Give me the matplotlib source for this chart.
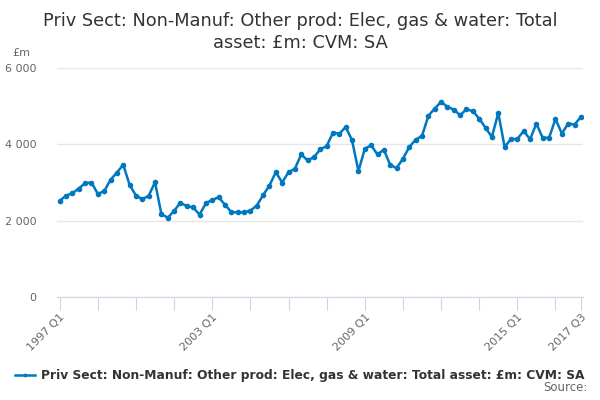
import numpy as np
import matplotlib
matplotlib.use("Agg")
import matplotlib.pyplot as plt

# quarterly values, 1997 Q1 .. 2017 Q3 (£m)
values = [2518, 2658, 2718, 2842, 2981, 3000, 2702, 2771, 3070, 3262,
          3465, 2939, 2658, 2562, 2650, 3008, 2175, 2079, 2254, 2473,
          2377, 2350, 2158, 2455, 2544, 2613, 2420, 2225, 2220, 2218,
          2263, 2395, 2666, 2921, 3271, 3000, 3271, 3359, 3736, 3578,
          3666, 3867, 3954, 4306, 4280, 4455, 4104, 3297, 3885, 3973,
          3736, 3859, 3460, 3377, 3623, 3930, 4123, 4219, 4745, 4938,
          5113, 4982, 4912, 4763, 4921, 4868, 4675, 4430, 4193, 4825,
          3930, 4140, 4140, 4350, 4132, 4544, 4166, 4176, 4666, 4281,
          4544, 4518, 4719]
quarters = ["%d Q%d" % (1997 + i // 4, i % 4 + 1) for i in range(len(values))]
label_quarters = ["1997 Q1", "2003 Q1", "2009 Q1", "2015 Q1", "2017 Q3"]
series_name = "Priv Sect: Non-Manuf: Other prod: Elec, gas & water: Total asset: £m: CVM: SA"
title = "Priv Sect: Non-Manuf: Other prod: Elec, gas & water: Total\nasset: £m: CVM: SA"

plt.rcParams['font.family'] = ['DejaVu Sans']
fig = plt.figure(figsize=(6, 4), dpi=100)
ax = fig.add_axes([0.095, 0.2575, 0.877, 0.5725])

x = np.arange(len(values))
ax.plot(x, values, color='#0077c0', linewidth=1.8, marker='o', markersize=3.0,
        label=series_name)

ax.set_ylim(0, 6000)
ax.set_xlim(-0.42, 82.36)
ax.set_yticks([0, 2000, 4000, 6000])
ax.set_yticklabels(["0", "2 000", "4 000", "6 000"])
ax.yaxis.grid(True, color='#e6e6e6', linewidth=1)
ax.set_axisbelow(True)
for s in ['top', 'right', 'left']:
    ax.spines[s].set_visible(False)
ax.spines['bottom'].set_color('#ccd6eb')
ax.tick_params(axis='y', length=0, pad=15, labelsize=8, labelcolor='#666666')

ticks = list(range(0, len(values), 6)) + [len(values) - 1]
ax.set_xticks(ticks)
ax.set_xticklabels([q if q in label_quarters else "" for q in [quarters[t] for t in ticks]],
                   rotation=45, ha='right', rotation_mode='anchor')
ax.tick_params(axis='x', length=9, color='#ccd6eb', labelsize=8, labelcolor='#666666', pad=2)

fig.text(0.5, 0.92, title, ha='center', va='center', fontsize=12.8, color='#333333',
         linespacing=1.3)
fig.text(0.02, 0.868, "£m", ha='left', va='center', fontsize=8, color='#666666')

leg = fig.legend(loc='center', bbox_to_anchor=(0.5, 0.06), frameon=False,
                 prop={'weight': 'bold', 'size': 8.8}, handlelength=1.6, handletextpad=0.5,
                 markerscale=0.6)
for t in leg.get_texts():
    t.set_color('#333333')
fig.text(0.98, 0.015, "Source:", ha='right', va='bottom', fontsize=8.5, color='#666666')

fig.savefig("out.png", dpi=100)
